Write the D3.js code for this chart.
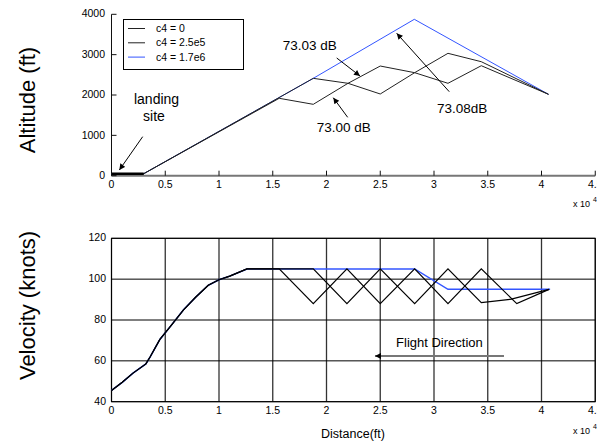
<!DOCTYPE html>
<html>
<head>
<meta charset="utf-8">
<script src="https://cdn.jsdelivr.net/npm/d3@7"></script>
<style>
  body { margin: 0; background: #fff; }
  text { font-family: "Liberation Sans", Arial, Helvetica, sans-serif; }
</style>
</head>
<body>
<div id="chart"></div>
<script>
// distance values are in units of 10^4 ft
var xTicks = [0, 0.5, 1, 1.5, 2, 2.5, 3, 3.5, 4, 4.5];
var altTicks = [0, 1000, 2000, 3000, 4000];
var velTicks = [40, 60, 80, 100, 120];

var seriesNames = ["c4 = 0", "c4 = 2.5e5", "c4 = 1.7e6"];

// altitude (ft) vs distance
var altDistA = [0, 0.30, 1.56, 1.877, 2.20, 2.50, 2.82, 3.13, 3.44, 4.065];
var altA = [50, 50, 1918, 1769, 2290, 2025, 2553, 2290, 2726, 2017];
var altDistB = [0, 0.30, 1.877, 2.20, 2.50, 2.82, 3.13, 3.44, 4.065];
var altB = [50, 50, 2413, 2290, 2718, 2553, 3033, 2825, 2017];
var altDistC = [0, 0.30, 1.877, 2.817, 4.065];
var altC = [50, 50, 2413, 3876, 2017];

// velocity (knots) vs distance
var velDistCommon = [0, 0.1, 0.2, 0.32, 0.36, 0.45, 0.55, 0.67, 0.78, 0.9, 1.0, 1.1, 1.26];
var velCommon = [45.5, 49.5, 54, 58.5, 62, 70.5, 77, 85, 91, 97, 99.7, 101.5, 105];
var velDistA = [1.56, 1.877, 2.19, 2.50, 2.82, 3.13, 3.44, 3.77, 4.07];
var velA = [105, 88, 105, 88, 105, 88, 105, 88, 95];
var velDistB = [1.877, 2.19, 2.50, 2.82, 3.13, 3.44, 3.72, 4.07];
var velB = [105, 88, 105, 88, 105, 88.5, 90.2, 95];
var velDistC = [1.877, 2.82, 3.13, 4.08];
var velC = [105, 105, 95, 95];

var svgWidth = 597;
var svgHeight = 446;

var svg = d3.select("#chart")
  .append("svg")
  .attr("width", svgWidth)
  .attr("height", svgHeight);

var defs = svg.append("defs");
defs.append("marker")
  .attr("id", "head")
  .attr("viewBox", "0 0 10 10")
  .attr("refX", 10)
  .attr("refY", 5)
  .attr("markerWidth", 8)
  .attr("markerHeight", 6)
  .attr("markerUnits", "userSpaceOnUse")
  .attr("orient", "auto")
  .append("path")
  .attr("d", "M0,0 L10,5 L0,10 Z")
  .attr("fill", "#000");

var colors = ["#222", "#222", "#3355ff"];

function zipPts(xs, ys) {
  return xs.map(function (x, i) { return [x, ys[i]]; });
}

// shared x scale
var xScale = d3.scaleLinear().domain([0, 4.5]).range([111.5, 595.25]);

// ================= Top: altitude =================
var yAlt = d3.scaleLinear().domain([0, 4000]).range([175.7, 14.3]);

var topG = svg.append("g");

topG.append("line")
  .attr("x1", xScale(0)).attr("x2", xScale(4.5))
  .attr("y1", yAlt(0)).attr("y2", yAlt(0))
  .attr("stroke", "#777").attr("stroke-width", 2);
topG.append("line")
  .attr("x1", xScale(0)).attr("x2", xScale(0))
  .attr("y1", yAlt(0)).attr("y2", yAlt(4000))
  .attr("stroke", "#111").attr("stroke-width", 1);

topG.selectAll(".xt").data(xTicks).enter().append("line")
  .attr("x1", d => xScale(d)).attr("x2", d => xScale(d))
  .attr("y1", yAlt(0)).attr("y2", yAlt(0) - 5)
  .attr("stroke", "#111");
topG.selectAll(".xl").data(xTicks).enter().append("text")
  .attr("x", d => xScale(d)).attr("y", 188)
  .attr("text-anchor", "middle").attr("font-size", 10.5)
  .text(d => d);

topG.selectAll(".yt").data(altTicks).enter().append("line")
  .attr("x1", xScale(0)).attr("x2", xScale(0) + 5)
  .attr("y1", d => yAlt(d)).attr("y2", d => yAlt(d))
  .attr("stroke", "#111");
topG.selectAll(".yl").data(altTicks).enter().append("text")
  .attr("x", 105).attr("y", d => yAlt(d))
  .attr("dy", "0.3em")
  .attr("text-anchor", "end").attr("font-size", 10.5)
  .text(d => d);

var altLine = d3.line().x(d => xScale(d[0])).y(d => yAlt(d[1]));
// blue drawn first so the shared black stretch stays black
var altSeries = [zipPts(altDistC, altC), zipPts(altDistA, altA), zipPts(altDistB, altB)];
var altColors = [colors[2], colors[0], colors[1]];

topG.selectAll(".alt").data(altSeries).enter().append("path")
  .attr("d", altLine)
  .attr("fill", "none")
  .attr("stroke", (d, i) => altColors[i])
  .attr("stroke-width", 1);

// thick landing strip
topG.append("path")
  .attr("d", altLine([[altDistA[0], altA[0]], [altDistA[1], altA[1]]]))
  .attr("stroke", "#000").attr("stroke-width", 2.5);

// legend
var legend = topG.append("g");
legend.append("rect")
  .attr("x", 123.5).attr("y", 19.5).attr("width", 120).attr("height", 50)
  .attr("fill", "#fff").attr("stroke", "#000");
seriesNames.forEach(function (name, i) {
  var ly = 28.5 + i * 14.3;
  legend.append("line")
    .attr("x1", 128).attr("x2", 145).attr("y1", ly).attr("y2", ly)
    .attr("stroke", colors[i]);
  legend.append("text")
    .attr("x", 156).attr("y", ly + 3.5)
    .attr("font-size", 10.5).text(name);
});

// annotations
function arrow(g, x, y, x0, y0, x1, y1) {
  g.append("line")
    .attr("x1", x(x0)).attr("y1", y(y0))
    .attr("x2", x(x1)).attr("y2", y(y1))
    .attr("stroke", "#000").attr("stroke-width", 1)
    .attr("marker-end", "url(#head)");
}
arrow(topG, xScale, yAlt, 0.29, 967, 0.073, 141);
arrow(topG, xScale, yAlt, 2.095, 2917, 2.312, 2471);
arrow(topG, xScale, yAlt, 2.197, 1447, 2.063, 1933);
arrow(topG, xScale, yAlt, 3.142, 2082, 2.653, 3529);

topG.append("text").attr("x", xScale(0.419)).attr("y", yAlt(1777))
  .attr("text-anchor", "middle").attr("font-size", 14).text("landing");
topG.append("text").attr("x", xScale(0.395)).attr("y", yAlt(1363))
  .attr("text-anchor", "middle").attr("font-size", 14).text("site");
topG.append("text").attr("x", xScale(1.593)).attr("y", yAlt(3115))
  .attr("font-size", 13.5).text("73.03 dB");
topG.append("text").attr("x", xScale(1.909)).attr("y", yAlt(1083))
  .attr("font-size", 13.5).text("73.00 dB");
topG.append("text").attr("x", xScale(3.028)).attr("y", yAlt(1546))
  .attr("font-size", 13.5).text("73.08dB");

// exponent label
topG.append("text").attr("x", 573).attr("y", 207)
  .attr("font-size", 9).text("x 10");
topG.append("text").attr("x", 593).attr("y", 202)
  .attr("font-size", 7).text("4");

svg.append("text")
  .attr("transform", "translate(35,100) rotate(-90)")
  .attr("text-anchor", "middle").attr("font-size", 22)
  .text("Altitude (ft)");

// ================= Bottom: velocity =================
var yVel = d3.scaleLinear().domain([40, 120]).range([401.7, 238.3]);
var botG = svg.append("g");

botG.selectAll(".vg").data(xTicks).enter().append("line")
  .attr("x1", d => xScale(d)).attr("x2", d => xScale(d))
  .attr("y1", yVel(40)).attr("y2", yVel(120))
  .attr("stroke", "#333").attr("stroke-width", 1.3);
botG.selectAll(".hg").data(velTicks).enter().append("line")
  .attr("x1", xScale(0)).attr("x2", xScale(4.5))
  .attr("y1", d => yVel(d)).attr("y2", d => yVel(d))
  .attr("stroke", "#000").attr("stroke-width", 1);
botG.append("rect")
  .attr("x", xScale(0)).attr("y", yVel(120))
  .attr("width", xScale(4.5) - xScale(0)).attr("height", yVel(40) - yVel(120))
  .attr("fill", "none").attr("stroke", "#000");

botG.selectAll(".xl").data(xTicks).enter().append("text")
  .attr("x", d => xScale(d)).attr("y", 414)
  .attr("text-anchor", "middle").attr("font-size", 10.5)
  .text(d => d);
botG.selectAll(".yl").data(velTicks).enter().append("text")
  .attr("x", 106).attr("y", d => yVel(d))
  .attr("dy", "0.3em")
  .attr("text-anchor", "end").attr("font-size", 10.5)
  .text(d => d);

var velLine = d3.line().x(d => xScale(d[0])).y(d => yVel(d[1]));
var commonPts = zipPts(velDistCommon, velCommon);
var velSeries = [
  commonPts.concat(zipPts(velDistC, velC)),
  commonPts.concat(zipPts(velDistA, velA)),
  commonPts.concat(zipPts(velDistB, velB))
];
botG.selectAll(".vel").data(velSeries).enter().append("path")
  .attr("d", velLine)
  .attr("fill", "none")
  .attr("stroke", (d, i) => i === 0 ? colors[2] : "#000")
  .attr("stroke-width", (d, i) => i === 0 ? 1.5 : 1.2);

// flight direction arrow
botG.append("line")
  .attr("x1", xScale(3.651)).attr("x2", xScale(2.451))
  .attr("y1", yVel(62.4)).attr("y2", yVel(62.4))
  .attr("stroke", "#777").attr("stroke-width", 2)
  .attr("marker-end", "url(#head)");
botG.append("text")
  .attr("x", xScale(2.647)).attr("y", yVel(66.8))
  .attr("font-size", 13).text("Flight Direction");

botG.append("text").attr("x", 573).attr("y", 434)
  .attr("font-size", 9).text("x 10");
botG.append("text").attr("x", 593).attr("y", 429)
  .attr("font-size", 7).text("4");

botG.append("text")
  .attr("x", 353).attr("y", 438)
  .attr("text-anchor", "middle").attr("font-size", 12.5)
  .text("Distance(ft)");

svg.append("text")
  .attr("transform", "translate(35,305.5) rotate(-90)")
  .attr("text-anchor", "middle").attr("font-size", 22)
  .text("Velocity (knots)");
</script>
</body>
</html>
